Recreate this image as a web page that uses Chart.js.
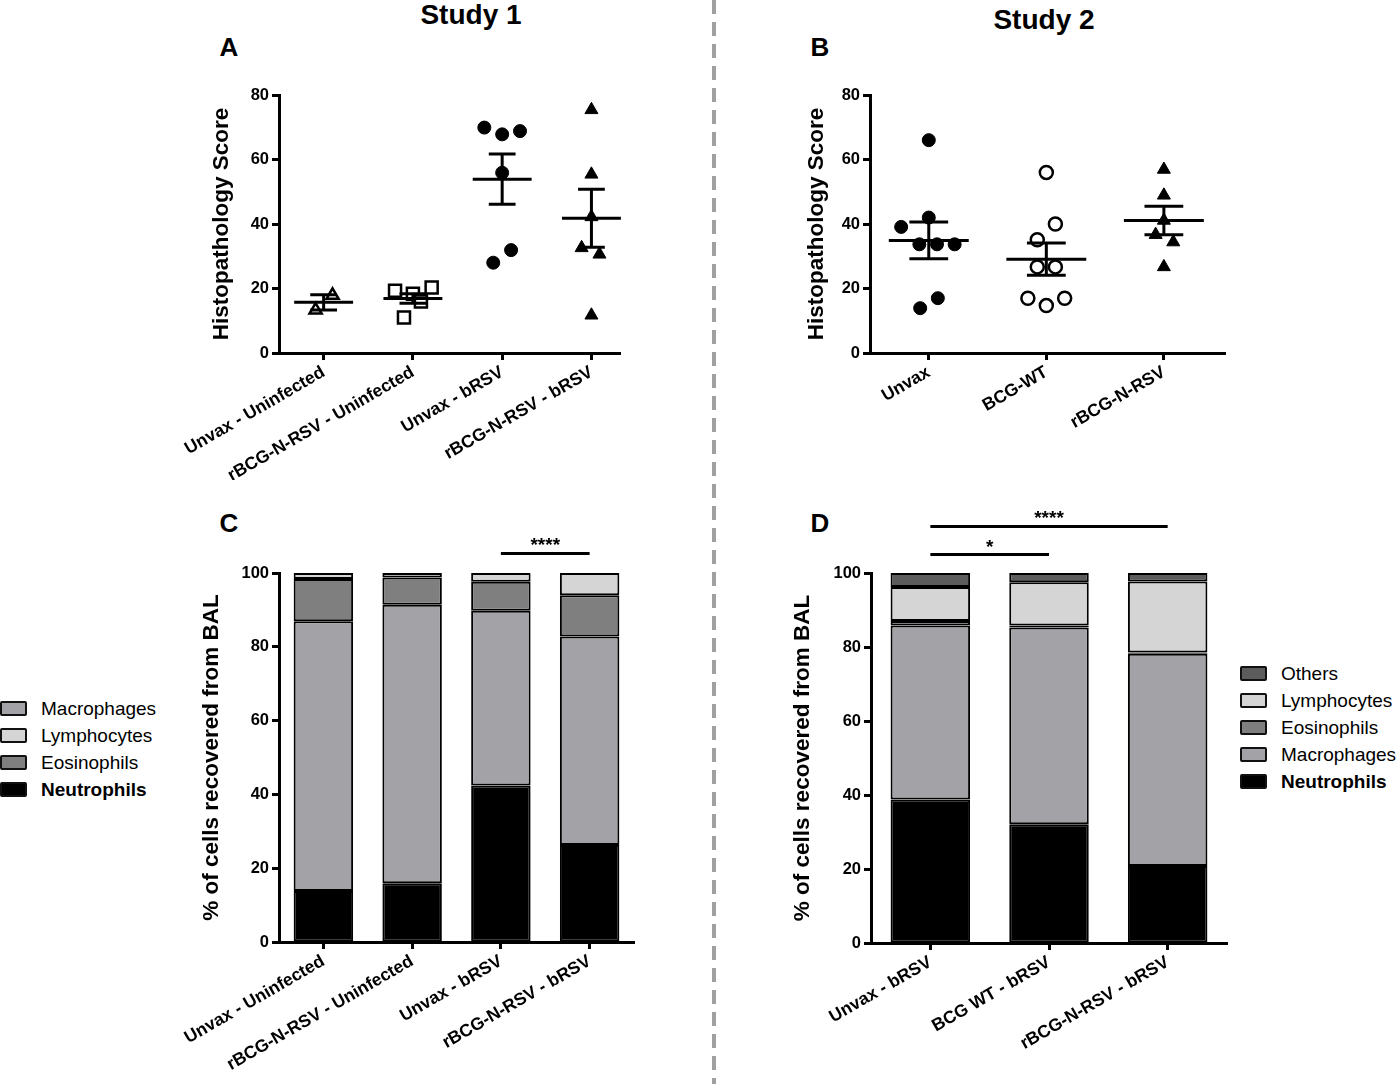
<!DOCTYPE html>
<html>
<head>
<meta charset="utf-8">
<script src="https://cdn.jsdelivr.net/npm/chart.js@4.4.1/dist/chart.umd.min.js"></script>
<style>
body { margin: 0; width: 1397px; height: 1084px; background: #fff; position: relative; overflow: hidden;
       font-family: "Liberation Sans", Arial, sans-serif; color: #000; }
canvas { position: absolute; }
.lbl { position: absolute; font-weight: bold; transform: translate(-50%, -50%); white-space: nowrap; }
.divider { position: absolute; left: 712px; top: 0; width: 4px; height: 1084px;
           background: repeating-linear-gradient(to bottom, #a0a0a0 0 14px, transparent 14px 22px); }
.legend { position: absolute; font-size: 19px; line-height: 27px; }
.legend div { display: flex; align-items: center; white-space: nowrap; }
.legend span.box { display: inline-block; width: 23px; height: 11px; border: 2px solid #111; border-radius: 2px; margin-right: 14px; }
</style>
</head>
<body>
<div class="divider"></div>
<div class="lbl" style="left:471px;top:15px;font-size:28px">Study 1</div>
<div class="lbl" style="left:1044px;top:20px;font-size:28px">Study 2</div>
<div class="lbl" style="left:229px;top:47px;font-size:26px">A</div>
<div class="lbl" style="left:820px;top:47px;font-size:26px">B</div>
<div class="lbl" style="left:229px;top:523px;font-size:26px">C</div>
<div class="lbl" style="left:820px;top:523px;font-size:26px">D</div>

<div class="legend" id="legendC" style="left:0;top:695px"></div>
<div class="legend" id="legendD" style="left:1240px;top:660px"></div>

<script>
// ---- Study 1 histopathology (A) ----
const groupsA = ['Unvax - Uninfected', 'rBCG-N-RSV - Uninfected', 'Unvax - bRSV', 'rBCG-N-RSV - bRSV'];
// [horizontal jitter within group, score]
const scoresA0 = [[-0.09, 13.3], [0.1, 17.9]];
const scoresA1 = [[-0.2, 19.3], [0.0, 18.4], [0.09, 16.0], [0.21, 20.3], [-0.1, 11.0]];
const scoresA2 = [[-0.2, 69.9], [0.0, 67.8], [0.2, 68.8], [0.0, 55.9], [-0.1, 28.0], [0.1, 31.9]];
const scoresA3 = [[0.0, 75.4], [0.0, 55.4], [0.0, 42.2], [-0.11, 32.6], [0.09, 30.6], [0.0, 11.7]];
const meanA = [15.7, 16.9, 53.9, 41.8];
const semA = [2.4, 1.5, 7.8, 9.0];

// ---- Study 2 histopathology (B) ----
const groupsB = ['Unvax', 'BCG-WT', 'rBCG-N-RSV'];
const scoresB0 = [[0.0, 66.0], [0.0, 42.0], [-0.235, 39.1], [-0.08, 33.7], [0.07, 33.7], [0.22, 33.7], [0.077, 17.0], [-0.073, 13.9]];
const scoresB1 = [[0.0, 56.0], [0.077, 40.0], [-0.077, 35.1], [-0.077, 26.7], [0.077, 26.7], [-0.157, 17.0], [0.0, 14.7], [0.156, 17.0]];
const scoresB2 = [[0.0, 56.9], [0.0, 48.9], [0.0, 41.1], [-0.07, 36.7], [0.08, 34.4], [0.0, 26.7]];
const meanB = [34.9, 29.1, 41.1];
const semB = [5.7, 5.0, 4.4];

// ---- Study 1 BAL cells (C), % ----
const groupsC = groupsA;
const neutC = [13.8, 15.9, 42.4, 26.3];
const macroC = [73.1, 75.5, 47.4, 56.5];
const eosC = [11.5, 7.4, 7.8, 11.2];
const lymphC = [1.6, 1.2, 2.4, 6.0];

// ---- Study 2 BAL cells (D), % ----
const groupsD = ['Unvax - bRSV', 'BCG WT - bRSV', 'rBCG-N-RSV - bRSV'];
const neutD = [38.8, 32.1, 20.8];
const macroD = [47.0, 53.2, 57.4];
const eosD = [1.2, 0.5, 0.3];
const lymphD = [9.2, 11.7, 19.2];
const othersD = [3.8, 2.5, 2.3];

const colors = { Neutrophils: '#000000', Macrophages: '#a3a2a7', Eosinophils: '#7f7f7f', Lymphocytes: '#d5d5d5', Others: '#5c5c5c' };

Chart.defaults.font.family = '"Liberation Sans", Arial, sans-serif';
Chart.defaults.color = '#000';
Chart.defaults.animation = false;
Chart.defaults.plugins.legend.display = false;
Chart.defaults.plugins.tooltip.enabled = false;

function makeCanvas(left, top, w, h) {
    const c = document.createElement('canvas');
    c.width = w; c.height = h;
    c.style.left = left + 'px'; c.style.top = top + 'px';
    document.body.appendChild(c);
    return c;
}

// fixed axis sizes so the four panels line up like the figure
function fixWidth(s, w) { s.width = w; s.paddingTop = 0; s.paddingBottom = 0; }
function fixHeight(s, h) { s.height = h; s.paddingLeft = 0; s.paddingRight = 0; }

const axisBorder = { color: '#000', width: 3 };
const axisGrid = { drawOnChartArea: false, tickLength: 7, tickWidth: 3, tickColor: '#000' };

function yAxis(title, max, step, width, titlePad) {
    return {
        min: 0, max: max,
        ticks: { stepSize: step, font: { size: 16.5, weight: 'bold' }, padding: 3 },
        border: axisBorder, grid: axisGrid,
        title: { display: true, text: title, font: { size: 22.5, weight: 'bold' }, padding: { top: titlePad, bottom: 0 } },
        afterFit: s => fixWidth(s, width)
    };
}

function xTicks() {
    return { autoSkip: false, minRotation: 30, maxRotation: 30, font: { size: 17.5, weight: 'bold' }, padding: 2 };
}

function scatterX(labels, max, height) {
    const ticks = xTicks();
    ticks.callback = v => labels[v];
    return {
        type: 'linear', min: -0.5, max: max,
        afterBuildTicks: s => { s.ticks = labels.map((l, i) => ({ value: i })); },
        ticks: ticks, border: axisBorder, grid: axisGrid,
        afterFit: s => fixHeight(s, height)
    };
}

function points(group, idx) {
    return group.map(p => ({ x: idx + p[0], y: p[1] }));
}

function markers(group, idx, style, filled, radius) {
    return {
        data: points(group, idx), pointStyle: style, pointRadius: radius,
        pointBackgroundColor: filled ? '#000' : '#fff', pointBorderColor: '#000',
        pointBorderWidth: filled ? 1 : 2.5
    };
}

// mean line with SEM error bar for each group
const meanSemPlugin = {
    id: 'meanSem',
    afterDatasetsDraw(chart, args, opts) {
        const { ctx, scales: { x, y } } = chart;
        ctx.save();
        ctx.strokeStyle = '#000';
        ctx.lineWidth = 3;
        opts.means.forEach((m, i) => {
            const s = opts.sems[i];
            ctx.beginPath();
            ctx.moveTo(x.getPixelForValue(i - opts.meanHalf), y.getPixelForValue(m));
            ctx.lineTo(x.getPixelForValue(i + opts.meanHalf), y.getPixelForValue(m));
            ctx.moveTo(x.getPixelForValue(i), y.getPixelForValue(m - s));
            ctx.lineTo(x.getPixelForValue(i), y.getPixelForValue(m + s));
            [m - s, m + s].forEach(v => {
                ctx.moveTo(x.getPixelForValue(i - opts.capHalf), y.getPixelForValue(v));
                ctx.lineTo(x.getPixelForValue(i + opts.capHalf), y.getPixelForValue(v));
            });
            ctx.stroke();
        });
        ctx.restore();
    }
};

// significance brackets above the bars
const sigPlugin = {
    id: 'sig',
    afterDraw(chart, args, opts) {
        const { ctx, scales: { x, y } } = chart;
        ctx.save();
        ctx.strokeStyle = '#000';
        ctx.fillStyle = '#000';
        ctx.lineWidth = 3;
        ctx.font = 'bold 19px "Liberation Sans", Arial, sans-serif';
        ctx.textAlign = 'center';
        ctx.textBaseline = 'alphabetic';
        opts.items.forEach(it => {
            const x1 = x.getPixelForValue(it.from), x2 = x.getPixelForValue(it.to);
            const yy = y.getPixelForValue(it.at);
            ctx.beginPath();
            ctx.moveTo(x1, yy);
            ctx.lineTo(x2, yy);
            ctx.stroke();
            ctx.fillText(it.text, (x1 + x2) / 2, yy - 2);
        });
        ctx.restore();
    }
};

// Panel A
new Chart(makeCanvas(160, 60, 480, 420), {
    type: 'scatter',
    data: { datasets: [
        markers(scoresA0, 0, 'triangle', false, 7),
        markers(scoresA1, 1, 'rect', false, 8.5),
        markers(scoresA2, 2, 'circle', true, 6.5),
        markers(scoresA3, 3, 'triangle', true, 7.5)
    ] },
    options: {
        responsive: false,
        layout: { padding: { left: 0, top: 35, right: 20, bottom: 0 } },
        scales: {
            x: scatterX(groupsA, 3.32, 127),
            y: yAxis('Histopathology Score', 80, 20, 119, 48)
        },
        plugins: { meanSem: { means: meanA, sems: semA, meanHalf: 0.33, capHalf: 0.15 } }
    },
    plugins: [meanSemPlugin]
});

// Panel B
new Chart(makeCanvas(780, 60, 460, 420), {
    type: 'scatter',
    data: { datasets: [
        markers(scoresB0, 0, 'circle', true, 6.5),
        markers(scoresB1, 1, 'circle', false, 6.5),
        markers(scoresB2, 2, 'triangle', true, 7.5)
    ] },
    options: {
        responsive: false,
        layout: { padding: { left: 0, top: 35, right: 15, bottom: 0 } },
        scales: {
            x: scatterX(groupsB, 2.52, 127),
            y: yAxis('Histopathology Score', 80, 20, 90, 23)
        },
        plugins: { meanSem: { means: meanB, sems: semB, meanHalf: 0.34, capHalf: 0.165 } }
    },
    plugins: [meanSemPlugin]
});

function barSet(label, data) {
    return {
        label: label, data: data, backgroundColor: colors[label],
        borderColor: '#000', borderWidth: 2, borderSkipped: false,
        categoryPercentage: 0.67, barPercentage: 1
    };
}

function barX(height) {
    return {
        stacked: true, ticks: xTicks(), border: axisBorder,
        grid: Object.assign({ offset: false }, axisGrid),
        afterFit: s => fixHeight(s, height)
    };
}

// Panel C
new Chart(makeCanvas(160, 520, 490, 564), {
    type: 'bar',
    data: { labels: groupsC, datasets: [
        barSet('Neutrophils', neutC),
        barSet('Macrophages', macroC),
        barSet('Eosinophils', eosC),
        barSet('Lymphocytes', lymphC)
    ] },
    options: {
        responsive: false,
        layout: { padding: { left: 0, top: 53, right: 16, bottom: 0 } },
        scales: {
            x: barX(142),
            y: Object.assign(yAxis('% of cells recovered from BAL', 100, 20, 119, 38), { stacked: true })
        },
        plugins: { sig: { items: [{ from: 2, to: 3, at: 105.3, text: '****' }] } }
    },
    plugins: [sigPlugin]
});

// Panel D
new Chart(makeCanvas(780, 490, 460, 594), {
    type: 'bar',
    data: { labels: groupsD, datasets: [
        barSet('Neutrophils', neutD),
        barSet('Macrophages', macroD),
        barSet('Eosinophils', eosD),
        barSet('Lymphocytes', lymphD),
        barSet('Others', othersD)
    ] },
    options: {
        responsive: false,
        layout: { padding: { left: 0, top: 83, right: 13, bottom: 0 } },
        scales: {
            x: barX(141),
            y: Object.assign(yAxis('% of cells recovered from BAL', 100, 20, 91, 9), { stacked: true })
        },
        plugins: { sig: { items: [
            { from: 0, to: 1, at: 105.0, text: '*' },
            { from: 0, to: 2, at: 112.6, text: '****' }
        ] } }
    },
    plugins: [sigPlugin]
});

// Legends
function fillLegend(id, names) {
    const el = document.getElementById(id);
    names.forEach(n => {
        const row = document.createElement('div');
        const box = document.createElement('span');
        box.className = 'box';
        box.style.background = colors[n];
        const t = document.createElement('span');
        t.textContent = n;
        if (n === 'Neutrophils') t.style.fontWeight = 'bold';
        row.appendChild(box);
        row.appendChild(t);
        el.appendChild(row);
    });
}
fillLegend('legendC', ['Macrophages', 'Lymphocytes', 'Eosinophils', 'Neutrophils']);
fillLegend('legendD', ['Others', 'Lymphocytes', 'Eosinophils', 'Macrophages', 'Neutrophils']);
</script>
</body>
</html>
